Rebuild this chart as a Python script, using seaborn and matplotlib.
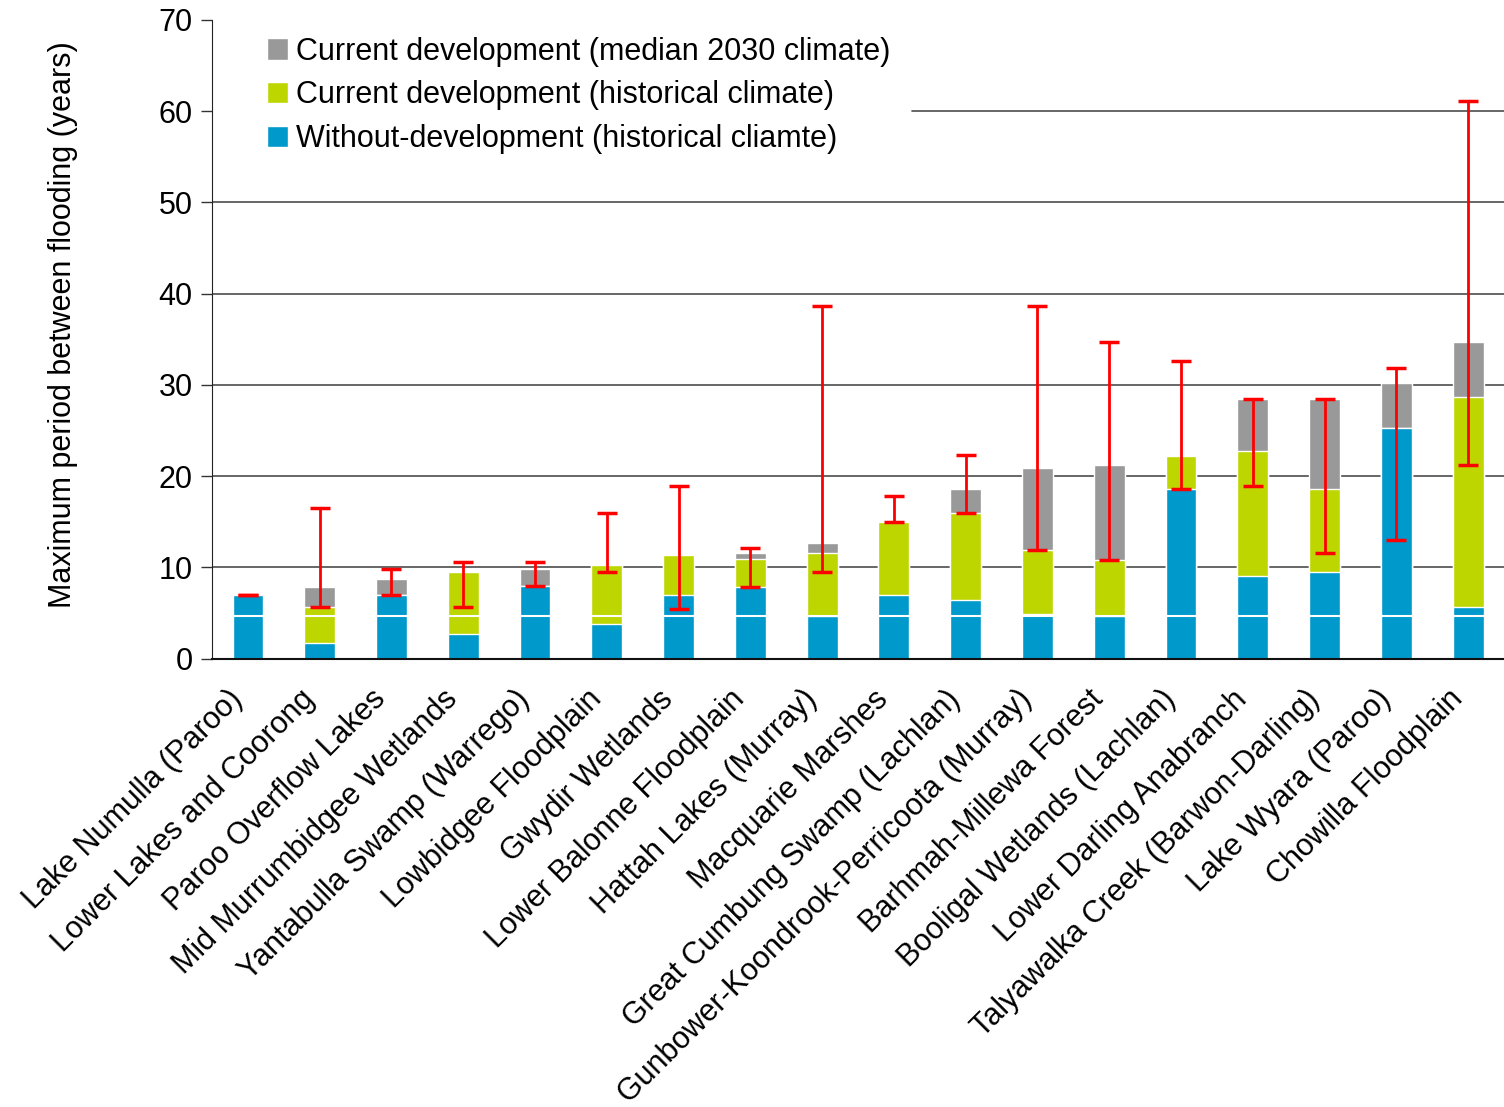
import matplotlib
matplotlib.use("Agg")
import matplotlib.pyplot as plt
import matplotlib.transforms as mtransforms
import seaborn as sns
import numpy as np
import pandas as pd

# wetland sites
sites = ["Lake Numulla (Paroo)", "Lower Lakes and Coorong", "Paroo Overflow Lakes",
         "Mid Murrumbidgee Wetlands", "Yantabulla Swamp (Warrego)", "Lowbidgee Floodplain",
         "Gwydir Wetlands", "Lower Balonne Floodplain", "Hattah Lakes (Murray)",
         "Macquarie Marshes", "Great Cumbung Swamp (Lachlan)", "Gunbower-Koondrook-Perricoota (Murray)",
         "Barhmah-Millewa Forest", "Booligal Wetlands (Lachlan)", "Lower Darling Anabranch",
         "Talyawalka Creek (Barwon-Darling)", "Lake Wyara (Paroo)", "Chowilla Floodplain"]

# bar values (years)
without_dev = [7.0, 1.75, 7.0, 2.75, 8.0, 3.85, 7.0, 7.8, 4.7, 7.0, 6.45, 4.9,
               4.7, 18.6, 9.1, 9.5, 25.3, 5.7]
current_hist = [7.0, 5.7, 7.0, 9.5, 8.0, 10.3, 11.4, 10.9, 11.6, 15.0, 16.0, 11.9,
                10.85, 22.2, 22.8, 18.6, 25.3, 28.7]
current_2030 = [7.0, 7.8, 8.75, 9.5, 9.85, 10.3, 11.4, 11.6, 12.7, 15.0, 18.6, 20.9,
                21.25, 22.2, 28.5, 28.5, 30.2, 34.7]

# range of 2030 climate scenarios (red bars)
range_low = [7.0, 5.7, 7.0, 5.65, 8.0, 9.55, 5.4, 7.8, 9.55, 15.0, 16.0, 11.9,
             10.85, 18.6, 18.9, 11.6, 12.95, 21.2]
range_high = [7.0, 16.5, 9.8, 10.6, 10.6, 16.0, 18.9, 12.15, 38.6, 17.85, 22.3, 38.6,
              34.7, 32.6, 28.5, 28.5, 31.8, 61.1]

labels = ["Current development (median 2030 climate)",
          "Current development (historical climate)",
          "Without-development (historical cliamte)"]
colours = ["#999999", "#BED600", "#0099CC"]

df = pd.DataFrame({"site": sites, "dev2030": current_2030,
                   "hist": current_hist, "nodev": without_dev})

sns.set_style("white")
plt.rcParams["font.family"] = ["Liberation Sans", "DejaVu Sans"]
plt.rcParams["text.color"] = "black"
plt.rcParams["xtick.labelcolor"] = "black"
plt.rcParams["ytick.labelcolor"] = "black"
plt.rcParams["axes.labelcolor"] = "black"

fig = plt.figure(figsize=(15.04, 11.07), dpi=100)
ax = fig.add_axes([0.141, 0.405, 0.859, 0.577])

# gridlines (the 60 line is hidden behind the legend on the left)
for g in [10, 20, 30, 40, 50]:
    ax.axhline(g, color="#4d4d4d", lw=1.2, zorder=0)
ax.axhline(60, xmin=0.542, color="#4d4d4d", lw=1.2, zorder=0)

for col, lab, c in zip(["dev2030", "hist", "nodev"], labels, colours):
    sns.barplot(data=df, x="site", y=col, color=c, width=0.43, order=sites,
                label=lab, ax=ax, saturation=1, zorder=2)

# thin white line across the bars
ax.axhline(4.7, xmin=0.003, color="white", lw=1.5, zorder=2.2)

x = np.arange(len(sites))
lo = np.array(range_low)
hi = np.array(range_high)
ax.errorbar(x, (lo + hi) / 2, yerr=(hi - lo) / 2, fmt="none", ecolor="#FF0000",
            elinewidth=2, capsize=7, capthick=2.5, zorder=4)

ax.set_xlim(-0.5, len(sites) - 0.5)
ax.set_ylim(0, 70)
ax.set_yticks(range(0, 71, 10))
ax.tick_params(axis="y", labelsize=22, length=8, width=1, color="#333333", direction="out", left=True, pad=6)
ax.set_xticks(x)
ax.set_xticklabels(sites, rotation=45, ha="right", va="center", rotation_mode="anchor", fontsize=22)
ax.tick_params(axis="x", length=0, pad=26)
shift = mtransforms.ScaledTranslation(-10 / 100, 0, fig.dpi_scale_trans)
for t in ax.get_xticklabels():
    t.set_transform(t.get_transform() + shift)
ax.set_xticks(np.arange(-0.5, len(sites), 1), minor=True)
ax.tick_params(axis="x", which="minor", length=9, width=1.5, color="#555555", direction="out")
ax.set_xlabel("")
ax.set_ylabel("Maximum period between flooding (years)", fontsize=22)
ax.yaxis.set_label_coords(-0.104, 0.523)

for s in ["top", "right"]:
    ax.spines[s].set_visible(False)
ax.spines["left"].set_color("#222222")
ax.spines["bottom"].set_color("#111111")
ax.spines["bottom"].set_linewidth(1.5)

leg = ax.legend(loc="upper left", bbox_to_anchor=(0.033, 0.993), fontsize=22, frameon=False,
                handlelength=0.7, handleheight=0.7, handletextpad=0.25, labelspacing=0.45,
                borderaxespad=0)

fig.savefig("out.png", dpi=100)
